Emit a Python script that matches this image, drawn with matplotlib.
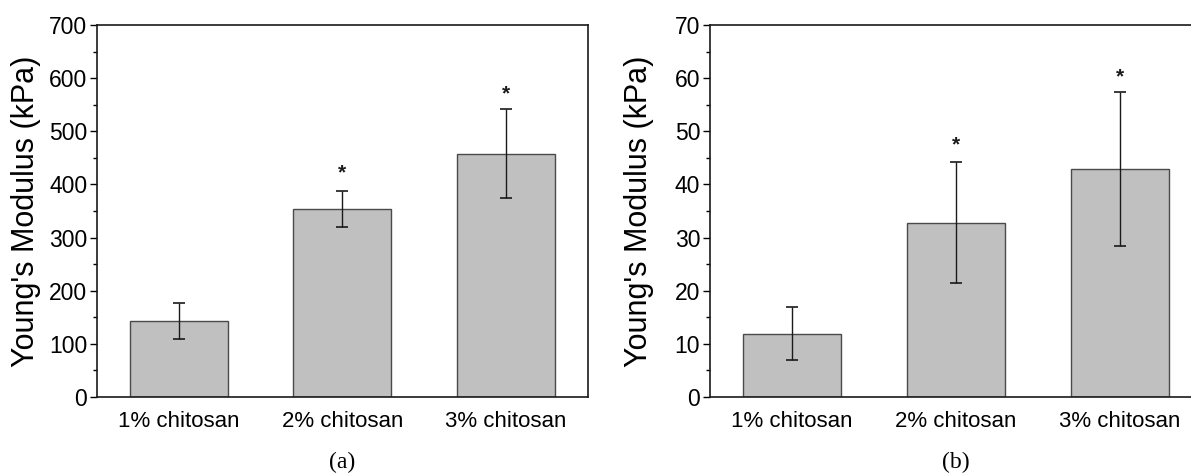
import matplotlib.pyplot as plt
from matplotlib.ticker import MultipleLocator

plt.rcParams['font.family'] = ['Liberation Sans', 'DejaVu Sans']

# data
groups = ['1% chitosan', '2% chitosan', '3% chitosan']

modulus_a = [143, 354, 458]
err_a = [33, 34, 84]
star_a = [None, 422, 571]

modulus_b = [11.9, 32.8, 42.9]
err_b = [5.0, 11.4, 14.5]
star_b = [None, 47.4, 60.2]


def draw_panel(ax, vals, errs, stars, ymax, major, minor, tag):
    x = range(1, len(groups) + 1)
    ax.bar(x, vals, width=0.6, color='#c0c0c0', edgecolor='#4a4a4a', linewidth=1.0)
    ax.errorbar(x, vals, yerr=errs, fmt='none', ecolor='#1a1a1a',
                elinewidth=1.0, capsize=4, capthick=1.2)
    for xi, s in zip(x, stars):
        if s is not None:
            ax.text(xi, s, '*', ha='center', va='center', fontsize=15,
                    fontweight='bold', color='#1a1a1a')
    ax.set_xlim(0.5, 3.5)
    ax.set_ylim(0, ymax)
    ax.set_xticks(list(x))
    ax.set_xticklabels(groups, fontsize=16)
    ax.tick_params(axis='x', length=0, pad=10)
    ax.yaxis.set_major_locator(MultipleLocator(major))
    ax.yaxis.set_minor_locator(MultipleLocator(minor))
    ax.tick_params(axis='y', which='major', direction='out', length=5, width=1, labelsize=16.5, pad=2)
    ax.tick_params(axis='y', which='minor', direction='out', length=3, width=1)
    ax.set_ylabel("Young's Modulus (kPa)", fontsize=22)
    ax.yaxis.set_label_coords(-0.113, 0.5)
    for sp in ax.spines.values():
        sp.set_linewidth(1.2)
        sp.set_color('#1a1a1a')
    ax.text(0.5, -0.175, tag, transform=ax.transAxes, ha='center', va='center',
            fontsize=17, family=['Liberation Serif', 'DejaVu Serif'])


fig = plt.figure(figsize=(11.91, 4.74), dpi=100)
ax1 = fig.add_axes([0.0814, 0.1624, 0.412, 0.785])
ax2 = fig.add_axes([0.5961, 0.1624, 0.4131, 0.785])

draw_panel(ax1, modulus_a, err_a, star_a, 700, 100, 50, '(a)')
draw_panel(ax2, modulus_b, err_b, star_b, 70, 10, 5, '(b)')

fig.savefig('out.png', dpi=100)
